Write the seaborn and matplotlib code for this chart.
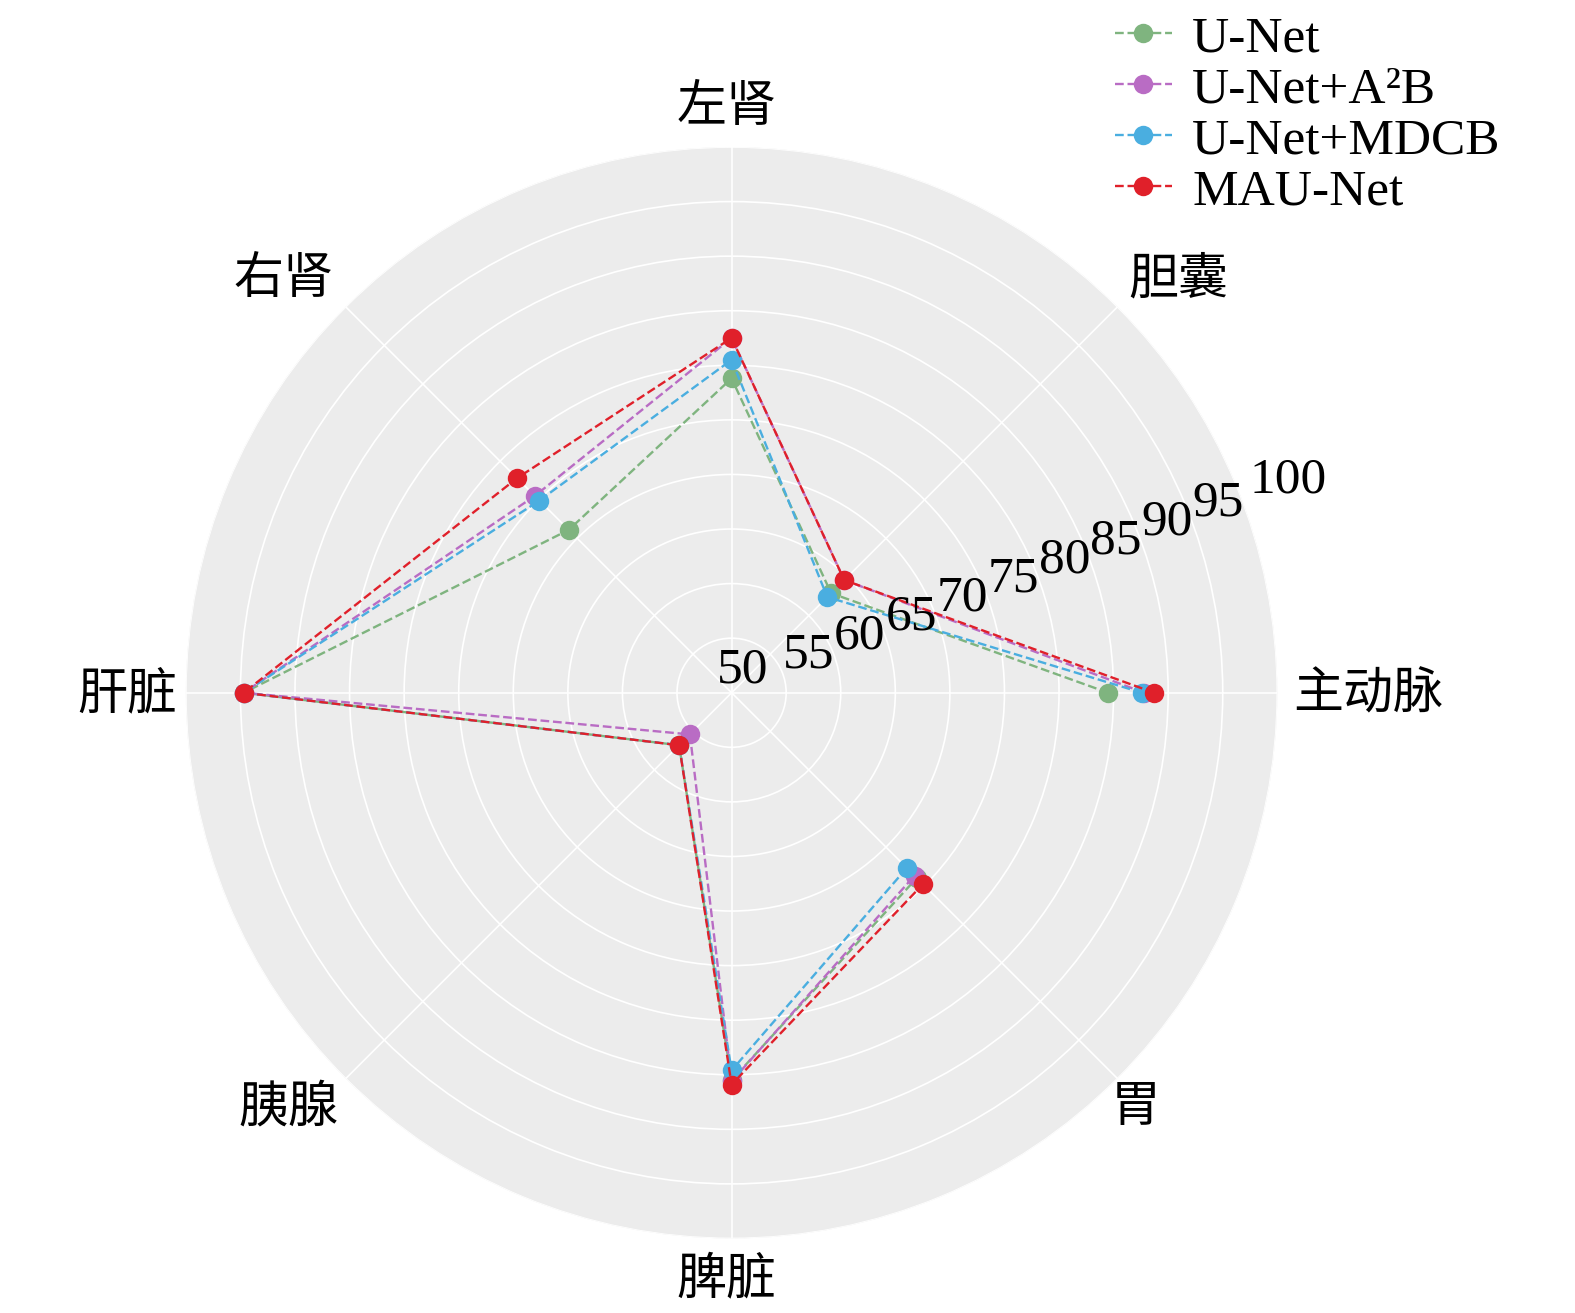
import numpy as np
import pandas as pd
import matplotlib.pyplot as plt
import matplotlib.transforms as mtransforms
import seaborn as sns

categories = ['主动脉', '胆囊', '左肾', '右肾', '肝脏', '胰腺', '脾脏', '胃']
models = ['U-Net', 'U-Net+A²B', 'U-Net+MDCB', 'MAU-Net']
unet = [84.5, 62.9, 78.8, 71.1, 94.7, 56.8, 85.5, 74.0]
unet_a2b = [87.8, 64.6, 82.5, 75.5, 94.7, 55.4, 85.6, 73.7]
unet_mdcb = [87.6, 62.4, 80.5, 74.9, 94.7, 56.8, 84.6, 72.7]
mau_net = [88.7, 64.6, 82.5, 77.8, 94.7, 56.8, 85.9, 74.8]
r_ticks = [50, 55, 60, 65, 70, 75, 80, 85, 90, 95, 100]
colors = ['#7fb47f', '#b96cc4', '#4aaee0', '#e0202a']

sns.set_style('whitegrid')
plt.rcParams['font.family'] = ['Liberation Serif', 'Noto Sans CJK SC']
plt.rcParams['text.color'] = 'black'

angles = np.linspace(0, 2 * np.pi, len(categories), endpoint=False)
theta = np.append(angles, angles[0])

fig = plt.figure(figsize=(15.75, 13.13), dpi=100)
ax = fig.add_axes([0.118, 0.0564, 0.693, 0.832], projection='polar')
ax.set_facecolor('#ececec')

for name, vals, c in zip(models, [unet, unet_a2b, unet_mdcb, mau_net], colors):
    df = pd.DataFrame({'theta': theta, 'r': np.append(vals, vals[0])})
    sns.lineplot(data=df, x='theta', y='r', ax=ax, sort=False, color=c,
                 linestyle='--', linewidth=1.7, marker='o', markersize=14,
                 markeredgewidth=0, label=name)

ax.set_ylim(50, 100)
ax.set_yticks(r_ticks)
ax.set_yticklabels([])
ax.set_xticks(angles)
ax.set_xticklabels([])
ax.set_xlabel('')
ax.set_ylabel('')
ax.grid(color='white', linewidth=1.2)
ax.spines['polar'].set_visible(False)

# radial labels, nudged in pixels like the original
rlab_angle = np.deg2rad(20.3)
for t in r_ticks:
    dx, dy = 26, 19
    if t == 50:
        dx, dy = 11, 22
    elif t == 100:
        dx, dy = 45, 23
    tr = mtransforms.offset_copy(ax.transData, fig=fig, x=dx, y=dy, units='dots')
    ax.text(rlab_angle, t, str(t), transform=tr, ha='center', va='center',
            fontsize=37, clip_on=False)

# category labels
cat_offsets = [(91, -3), (61, 26), (-5, 38), (-62, 26), (-59, -3), (-57, -30), (-5, -42), (18, -30)]
for a, lab, (dx, dy) in zip(angles, categories, cat_offsets):
    tr = mtransforms.offset_copy(ax.transData, fig=fig, x=dx, y=dy, units='dots')
    ax.text(a, 100, lab, transform=tr, ha='center', va='center',
            fontsize=36, clip_on=False)

ax.legend(loc='upper left', bbox_to_anchor=(1110 / 1575, 1 - 10 / 1313), bbox_transform=fig.transFigure,
          frameon=False, fontsize=37, handlelength=1.1, handletextpad=0.4,
          labelspacing=0.08, borderaxespad=0.0, borderpad=0.1)

plt.savefig('out.png', dpi=100)
plt.close()
